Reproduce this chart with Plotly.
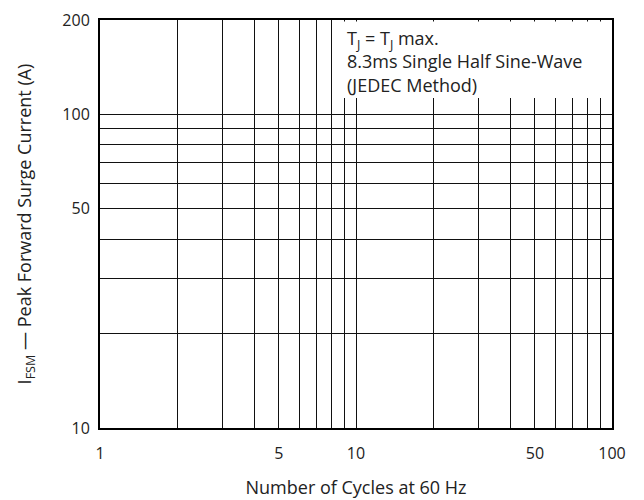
import plotly.graph_objects as go

# Grid positions (log axes) and labelled ticks
x_grid_values = [1, 2, 3, 4, 5, 6, 7, 8, 9, 10, 20, 30, 40, 50, 60, 70, 80, 90, 100]
x_labelled = {1: "1", 5: "5", 10: "10", 50: "50", 100: "100"}
y_grid_values = [10, 20, 30, 40, 50, 60, 70, 80, 90, 100, 200]
y_labelled = {10: "10", 50: "50", 100: "100", 200: "200"}

x_tick_text = [x_labelled.get(v, "") for v in x_grid_values]
y_tick_text = [y_labelled.get(v, "") for v in y_grid_values]

note_lines = ["T<sub>J</sub> = T<sub>J</sub> max.",
              "8.3ms Single Half Sine-Wave",
              "(JEDEC Method)"]

FONT = "Open Sans"
TXT = "#222222"

fig = go.Figure()
fig.add_trace(go.Scatter(x=[1, 100], y=[10, 200], mode="markers",
                         marker=dict(opacity=0), hoverinfo="skip",
                         showlegend=False))

# page body adds an 8px offset; margins compensate for it
fig.update_layout(
    width=644, height=500,
    margin=dict(l=92, r=40, t=12, b=80),
    paper_bgcolor="white", plot_bgcolor="white",
    font=dict(family=FONT, size=16, color=TXT),
    showlegend=False,
)

fig.update_xaxes(
    type="log", range=[0, 2], automargin=False,
    tickmode="array", tickvals=x_grid_values, ticktext=x_tick_text,
    showgrid=True, gridcolor="#111111", gridwidth=1,
    showline=True, linecolor="black", linewidth=2, mirror=True,
    ticks="", ticklabelstandoff=10,
    tickfont=dict(family=FONT, size=16, color=TXT),
    zeroline=False,
    title=dict(text="Number of Cycles at 60 Hz", standoff=18,
               font=dict(family=FONT, size=18, color=TXT)),
)
fig.update_yaxes(
    type="log", range=[1, 2.30103], automargin=False,
    tickmode="array", tickvals=y_grid_values, ticktext=y_tick_text,
    showgrid=True, gridcolor="#111111", gridwidth=1,
    showline=True, linecolor="black", linewidth=2, mirror=True,
    ticks="", ticklabelstandoff=5,
    tickfont=dict(family=FONT, size=16, color=TXT),
    zeroline=False,
    title=dict(text="I<sub>FSM</sub> — Peak Forward Surge Current (A)", standoff=26,
               font=dict(family=FONT, size=18, color=TXT)),
)

# white box behind the note (covers gridlines, kept inside the frame)
fig.add_shape(type="rect", xref="paper", yref="paper",
              x0=0.455, x1=1.0 - 1.5 / 512, y0=0.809, y1=1.0 - 1.5 / 408,
              fillcolor="white", line=dict(width=0), layer="above")

fig.add_annotation(xref="paper", yref="paper", x=0.478, y=0.99,
                   xanchor="left", yanchor="top", align="left",
                   showarrow=False, text="<br>".join(note_lines),
                   font=dict(family=FONT, size=18, color=TXT))

fig.write_html("out.html")
